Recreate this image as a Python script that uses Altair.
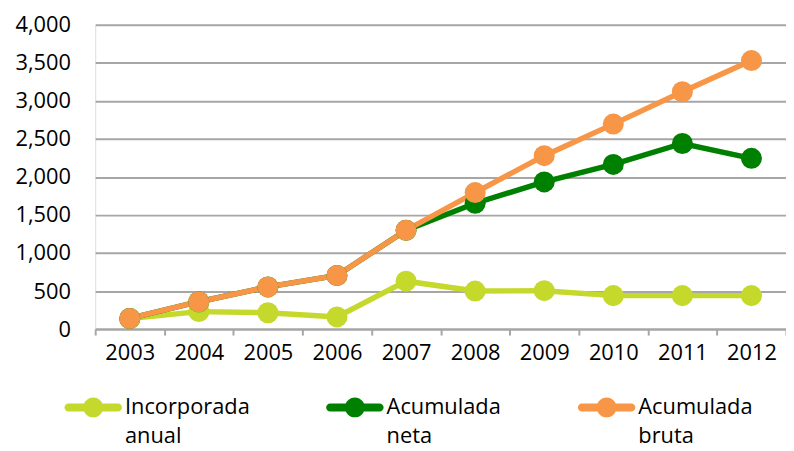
import altair as alt
import pandas as pd

# ---- data ----
years = ["2003", "2004", "2005", "2006", "2007", "2008", "2009", "2010", "2011", "2012"]
series_names = ["Incorporada anual", "Acumulada neta", "Acumulada bruta"]
incorporada = [140, 230, 215, 160, 630, 500, 505, 440, 440, 440]
neta = [140, 360, 555, 705, 1300, 1655, 1935, 2165, 2440, 2245]
bruta = [140, 360, 555, 705, 1300, 1795, 2280, 2695, 3120, 3530]
colors = ["#C5D82C", "#008000", "#F79646"]
y_ticks = [0, 500, 1000, 1500, 2000, 2500, 3000, 3500, 4000]

rows = []
for name, vals in zip(series_names, [incorporada, neta, bruta]):
    for yr, v in zip(years, vals):
        rows.append({"year": yr, "series": name, "value": v})
df = pd.DataFrame(rows)

FONT = "Open Sans"
GRID = "#A6A6A6"
LEGEND_SHAPE = (
    "M-0.86,-0.14 L0.86,-0.14 A0.14,0.14 0 0,1 0.86,0.14 "
    "L-0.86,0.14 A0.14,0.14 0 0,1 -0.86,-0.14 Z "
    "M0.345,0 A0.345,0.345 0 1,1 -0.345,0 A0.345,0.345 0 1,1 0.345,0 Z"
)

x = alt.X(
    "year:N",
    sort=years,
    scale=alt.Scale(type="band", paddingInner=0, paddingOuter=0),
    axis=alt.Axis(
        title=None, labelAngle=0, tickBand="extent", grid=False,
        domainColor=GRID, domainWidth=2, tickColor=GRID, tickWidth=2,
        tickSize=6, labelPadding=8, labelFont=FONT, labelFontSize=22,
        labelColor="#000000",
    ),
)
y = alt.Y(
    "value:Q",
    scale=alt.Scale(domain=[0, 4000], nice=False),
    axis=alt.Axis(
        title=None, values=y_ticks, format=",.0f", grid=True, gridColor=GRID,
        gridWidth=2, domain=False, ticks=False, labelPadding=25,
        labelFont=FONT, labelFontSize=22, labelColor="#000000",
    ),
)
color_scale = alt.Scale(domain=series_names, range=colors)

lines = alt.Chart(df).mark_line(strokeWidth=5.5).encode(
    x=x, y=y,
    color=alt.Color("series:N", scale=color_scale, sort=series_names, legend=None),
)
points = alt.Chart(df).mark_point(filled=True, shape="circle", size=450, opacity=1).encode(
    x=x, y=y,
    color=alt.Color(
        "series:N", scale=color_scale, sort=series_names,
        legend=alt.Legend(
            title=None, orient="none", legendX=-31, legendY=357,
            direction="horizontal", columnPadding=77, padding=0,
            symbolType=LEGEND_SHAPE, symbolSize=3364, symbolStrokeWidth=0,
            symbolOpacity=1, labelOffset=3, labelFont=FONT, labelFontSize=22,
            labelColor="#000000", labelLimit=300, labelBaseline="middle",
            labelExpr="split(datum.label, ' ')",
        ),
    ),
)

chart = (
    alt.layer(lines, points)
    .resolve_legend(color="independent")
    .properties(
        width=697, height=307,
        padding={"left": 88, "top": 15, "right": 0, "bottom": 121},
        autosize=alt.AutoSizeParams(type="none"),
    )
    .configure_view(stroke=None)
    .configure(style={"guide-label": {"lineHeight": 29}})
)

chart.save("out.html", embed_options={"renderer": "svg", "actions": False})
